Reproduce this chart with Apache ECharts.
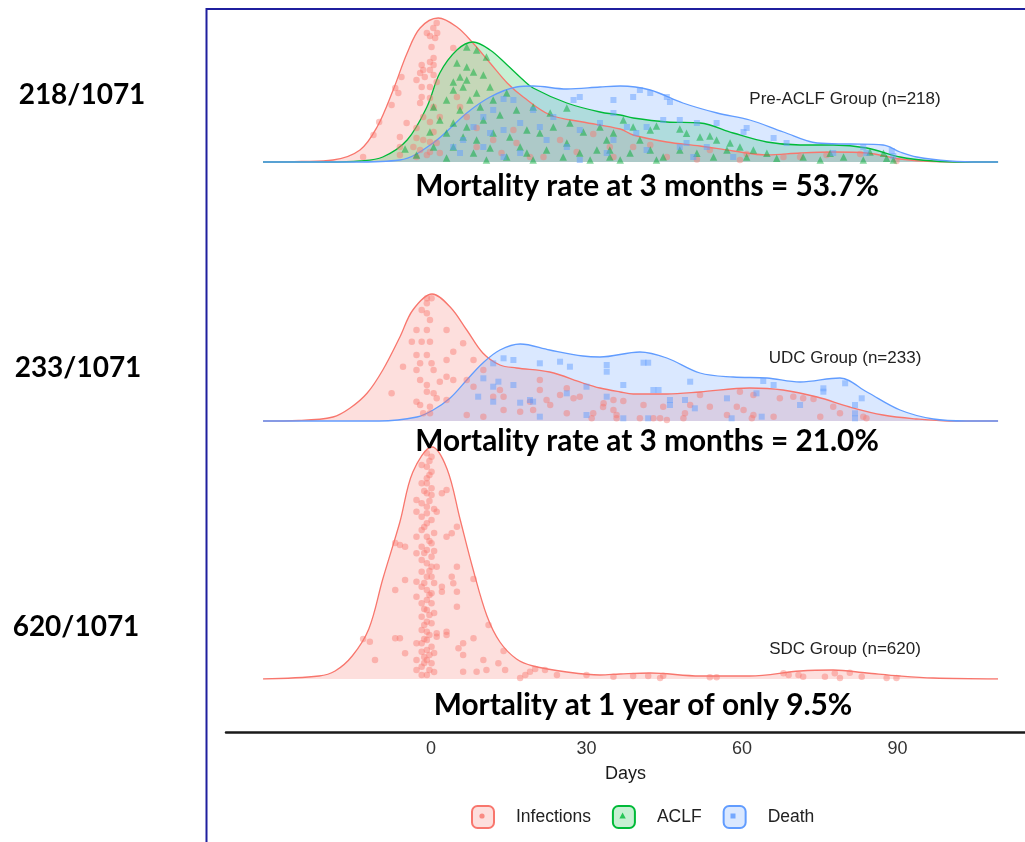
<!DOCTYPE html>
<html>
<head>
<meta charset="utf-8">
<script src="https://cdn.jsdelivr.net/npm/echarts@6/dist/echarts.min.js"></script>
<style>
  html, body { margin: 0; padding: 0; background: #ffffff; }
  #chart { width: 1025px; height: 842px; }
</style>
</head>
<body>
<div id="chart"></div>
<script>
// ---------------- values ----------------
const xTicks = [0, 30, 60, 90];
const eventNames = ['Infections', 'ACLF', 'Death'];
const groupLabels = ['Pre-ACLF Group (n=218)', 'UDC Group (n=233)', 'SDC Group (n=620)'];
const groupShares = ['218/1071', '233/1071', '620/1071'];
const mortalityNotes = [
  'Mortality rate at 3 months = 53.7%',
  'Mortality rate at 3 months = 21.0%',
  'Mortality at 1 year of only 9.5%'
];

// density curves: [day, scaled density]
const preInfectionsDensity = [[-32.4,0],[-25,0.5],[-18.9,2],[-13.7,12],[-10.4,35],[-7.3,72],[-4.6,109],[-2.1,134],[1.4,144],[5.0,135],[8.1,119],[11.4,99],[14.7,79],[17.8,65],[23.0,47],[29.3,40],[36.5,33],[39.0,27],[45.5,20],[51.9,16],[58.3,11],[64.8,7],[71.2,9],[77.6,10],[84.1,9],[90.5,3],[96.9,0.5],[109.4,0]];
const preAclfDensity = [[-32.4,0],[-20,0],[-13.7,1],[-9.3,5],[-4.6,22],[-0.8,55],[1.7,89],[5.0,112],[8.1,120],[11.4,112],[14.7,97],[17.8,82],[19.7,74],[26.2,59],[32.6,50],[36.5,47],[39.0,44],[45.5,40],[51.9,39],[58.3,29],[64.8,20],[71.2,17],[77.6,17],[84.1,14],[90.5,5],[96.9,1],[103,0],[109.4,0]];
const preDeathDensity = [[-32.4,0],[-15,0],[-6.0,2],[0.4,19],[6.9,49],[11.4,65],[16.5,75],[19.7,76],[26.2,73],[32.6,75],[36.5,76],[42.3,72],[48.6,59],[55.2,49],[61.5,42],[68,30],[74.5,19],[80.8,18],[87.2,17],[90.5,10],[93.7,5],[100,1],[106.5,0],[109.4,0]];
const udcInfectionsDensity = [[-32.4,0],[-25.5,0.5],[-18.9,4],[-15.6,13],[-12.3,28],[-9.3,51],[-6.0,84],[-3.5,111],[0.2,127],[3.7,114],[6.9,91],[10.0,68],[13.3,56],[16.5,53],[22.9,49],[29.3,38],[32.6,33],[36.5,29],[39.0,27],[45.5,27],[51.9,29],[61.5,33],[67.9,31],[74.5,24],[80.8,14],[87.2,6],[93.7,2],[100,0],[109.4,0]];
const udcDeathDensity = [[-32.4,0],[-10,0],[-2.7,4],[0.4,11],[3.7,23],[6.9,41],[10.0,58],[13.3,71],[17.2,77],[22.9,71],[29.3,65],[32.6,64],[40.3,69],[45.5,63],[51.9,48],[58.3,44],[64.8,43],[71.2,39],[78.9,43],[84.1,29],[90.5,11],[96.9,2],[103.3,0],[109.4,0]];
const sdcInfectionsDensity = [[-32.4,0],[-21.6,3],[-18.5,8],[-15.2,23],[-12.0,50],[-9.3,100],[-6.0,157],[-3.5,207],[0.2,232],[3.1,210],[5.6,160],[8.1,110],[10.8,63],[13.3,37],[16.5,20],[19.7,13],[26.2,7],[32.6,4],[36.5,5],[42.3,6],[51.9,3],[61.5,3],[71.2,8],[77.6,9],[84.1,6],[90.5,3],[96.9,1],[109.4,0]];

// individual events: [day, jittered height]
const preInfectionsPoints = [[1.1,139],[0.45,134],[1.2,129],[-0.2,126],[0.8,124],[-0.8,129],[0.1,115],[4.3,114],[0.5,104],[-0.2,100],[-1.8,97],[0.5,97],[-1.5,92],[-0.2,92],[-5.7,85],[-2.1,89],[0.5,87],[-1.2,85],[-6.9,74],[-2.8,82],[1.1,80],[-1.8,75],[-0.2,75],[-6.3,69],[-1.8,65],[-0.2,64],[-7.6,57],[-2.1,59],[0.5,55],[1.7,45],[-10.0,40],[-1.5,45],[-0.2,40],[-4.7,39],[-2.8,34],[0.5,30],[-11.1,27],[-6.0,25],[-2.8,24],[-1.5,22],[-0.2,20],[1.1,19],[-6.0,15],[-3.4,15],[-2.1,12],[-0.2,10],[-13.1,5],[-6.0,7],[-2.8,5],[-0.8,7],[1.7,9],[5.0,65],[5.6,55],[6.9,45],[8.8,34],[8.8,15],[12.0,22],[13.6,9],[15.9,32],[16.5,19],[19.1,5],[21.7,5],[24.9,22],[28.1,10],[31.3,28],[34.5,15],[35.2,5],[39.0,15],[42.3,17],[45.5,5],[51.3,2.5],[53.8,12],[59.6,2],[60.9,8],[68.0,5],[71.2,5],[76.3,7],[82.8,8],[89.8,1]];
const preAclfPoints = [[6.9,115],[8.8,112],[10.7,105],[5.0,99],[6.9,95],[8.2,90],[5.6,85],[4.3,80],[6.9,82],[10.1,87],[6.2,75],[8.8,69],[11.4,75],[4.3,72],[7.5,62],[3.0,62],[0.5,55],[5.6,52],[9.5,55],[12.0,62],[14.6,69],[1.7,42],[4.3,39],[6.9,35],[10.1,42],[13.3,47],[16.5,52],[19.7,55],[23.0,49],[26.2,54],[-0.2,30],[3.0,29],[6.2,25],[8.8,22],[12.0,29],[15.2,25],[18.5,32],[21.0,29],[23.6,35],[26.8,39],[29.4,30],[32.6,35],[35.2,29],[-5.0,13],[0.5,15],[4.3,15],[8.2,9],[11.4,14],[14.6,5],[18.5,9],[22.3,12],[25.5,5],[28.7,9],[32.0,12],[34.5,5],[26.2,19],[17.2,15],[-2.8,7],[3.0,4],[10.7,2],[19.7,2],[30.7,2],[33.9,22],[37.1,42],[39.0,35],[42.3,32],[43.5,36],[48.0,33],[49.3,28.7],[51.9,25],[53.8,26],[55.1,22],[57.7,19],[59.6,15],[62.2,12],[34.5,12],[38.4,9],[42.3,12],[44.8,5],[48.0,12],[51.3,8.7],[54.5,5],[57.1,12],[60.9,5],[64.8,8.7],[66.7,3.7],[71.8,5],[75.1,2],[77.0,8.7],[79.6,5],[83.4,2],[84.7,10],[87.9,3.7],[89.2,2],[87.3,8.7],[43.5,2],[36.5,2],[40.3,22]];
const preDeathPoints = [[14.0,63],[15.9,62],[12.0,52],[10.1,45],[8.2,35],[11.4,29],[14.0,32],[17.2,39],[19.7,52],[21.0,35],[23.6,45],[27.5,62],[28.7,65],[28.7,32],[32.6,39],[35.2,49],[14.0,5],[17.2,9],[26.2,15],[28.7,2],[33.9,9],[4.3,15],[6.2,22],[10.1,15],[22.3,22],[5.6,9],[35.2,62],[39.0,65],[42.3,69],[45.5,65],[46.1,60],[40.3,72],[39.6,29],[41.6,35],[44.8,42],[48.0,42],[51.3,39],[55.1,39],[60.3,30],[66.1,24],[60.9,34],[49.3,19],[53.2,15],[58.3,5],[35.2,22],[37.8,35],[68.6,19],[77.6,9],[83.4,15],[84.0,9],[88.9,11],[89.2,6],[48.0,15],[41.6,12],[50.6,5]];
const udcInfectionsPoints = [[-0.8,122.7],[0.1,122.7],[-0.8,117.7],[-1.8,111],[-0.8,107.7],[-0.2,101],[-2.8,91],[-0.8,91],[3.0,91],[-3.7,79.3],[-1.8,79.3],[-0.2,79.3],[-2.8,66],[-0.8,66],[3.0,61],[6.2,77.7],[8.2,61],[-2.1,57.7],[0.1,57.7],[-5.4,54.3],[-2.8,51],[0.5,51],[4.3,69.3],[3.0,44.3],[-2.1,41],[-0.8,36],[1.7,39.3],[4.3,41],[0.5,27.7],[-7.6,27.7],[-0.8,29.3],[-2.8,19.3],[-0.2,14.3],[-2.1,16],[-1.5,7.7],[-0.2,7.7],[1.1,22.7],[3.0,21],[6.9,41],[8.2,34.3],[10.1,51],[14.0,24.3],[17.2,9.3],[21.0,41],[21.0,31],[22.3,21],[23.0,16],[19.1,19.3],[19.7,11],[26.2,32.7],[26.2,7.7],[24.9,26],[27.5,22.7],[28.7,24.3],[6.9,6],[10.1,4.3],[14.0,11],[33.3,17.7],[35.2,21],[31.3,7.7],[31.0,2.7],[35.8,2.7],[12.0,24.3],[13.3,31],[33.2,14],[37.1,20],[41.0,16],[44.8,14.3],[45.5,1],[48.7,2.7],[49.0,7.7],[50.0,16],[51.9,26],[53.8,14.3],[57.1,6],[59.0,14.3],[59.6,29.3],[60.3,11],[62.2,26],[62.2,6],[66.1,4.3],[67.3,22.7],[69.9,24.3],[71.8,22.7],[73.8,22],[75.1,4.3],[77.6,14.3],[78.9,7.7],[83.4,4.3],[84.0,2.7],[61.9,2.7],[40.3,2.7],[42.9,2.7],[44.2,2.7],[35.2,11],[35.8,6]];
const udcDeathPoints = [[14.0,62.7],[15.9,61],[12.0,57.7],[10.1,42.7],[13.0,39.3],[12.0,34.3],[15.9,36],[9.1,24.3],[12.0,19.3],[17.2,18.3],[19.1,21],[19.7,19.3],[21.0,4.3],[21.0,57.7],[24.9,59.3],[26.8,54.3],[30.0,34.3],[33.9,56],[33.9,49.3],[33.9,24.3],[30.0,6],[26.2,27.7],[37.1,36],[41.0,58.3],[41.9,58.3],[42.9,31],[43.9,31],[46.1,21],[46.1,16],[49.0,21],[50.0,39.3],[50.9,12.7],[57.1,22.7],[58.0,2.7],[37.1,2.7],[41.9,2.7],[64.1,40],[66.1,36],[62.8,27.7],[63.8,4.3],[71.2,16],[75.7,32.7],[75.7,29.3],[79.9,37.7],[83.1,22.7],[81.8,16],[81.8,7.7],[81.8,2.7]];
const sdcInfectionsPoints = [[-0.8,225.7],[0.1,222.3],[-1.8,214],[-0.8,212.3],[0.1,207.3],[-0.8,200.7],[-1.8,195.7],[-0.8,195.7],[0.1,190.7],[-0.8,185.7],[-2.8,179],[-1.8,175.7],[0.1,184],[-0.8,172.3],[-2.8,167.3],[-1.8,162.3],[-0.8,165.7],[0.1,159],[-0.8,155.7],[-1.8,149],[-2.8,142.3],[-0.8,142.3],[0.1,135.7],[-1.8,132.3],[-0.8,129],[-2.8,125.7],[0.1,122.3],[-1.8,119],[-0.8,115.7],[0.1,112.3],[-1.8,107.3],[-0.8,102.3],[0.1,102.3],[-2.8,97.3],[-1.8,92.3],[-0.8,89],[0.1,85.7],[-2.8,82.3],[-0.8,79],[-1.8,75.7],[0.1,75.7],[-0.8,69],[-1.8,62.3],[-0.8,57.3],[0.1,55.7],[-1.8,49],[-0.8,47.3],[-2.8,35.7],[-1.8,35.7],[-0.8,39],[0.1,32.3],[-1.8,27.3],[-0.8,29],[-2.8,19],[-0.8,19],[0.1,15.7],[-1.8,12.3],[-2.8,9],[-0.8,4],[-1.8,4],[1.1,42.3],[-0.3,218],[-0.3,204],[-1.3,188],[-0.3,178],[-1.3,152],[-0.3,138],[-1.3,126],[-0.3,108],[-1.3,96],[-0.3,84],[-1.3,70],[-0.3,64],[-1.3,54],[-0.3,44],[-1.3,40],[-0.3,24],[-1.3,22],[-0.3,9],[-1.3,16],[0.6,170],[0.6,146],[0.6,128],[0.6,96],[0.6,66],[0.6,26],[0.6,7],[3.0,189],[2.1,185.7],[1.1,167.3],[5.0,152.3],[4.0,145.7],[3.0,142.3],[-6.0,134],[-5.0,132.3],[-6.9,136],[1.1,112.3],[5.0,112.3],[8.2,100],[4.0,102.3],[4.3,95.7],[2.1,92.3],[2.1,87.3],[5.0,87.3],[-5.0,99],[-6.9,89],[5.0,72.3],[11.1,54],[3.0,47.3],[1.1,45.7],[3.0,44],[-6.9,40.7],[-6.0,40.7],[8.2,40.7],[5.3,30.7],[6.2,35.7],[6.2,24],[14.0,28],[10.1,19],[13.0,15.7],[14.3,9],[6.2,7.3],[8.8,7.3],[10.7,9],[-13.1,40],[-11.8,37.3],[-10.8,19],[-5.0,25.7],[17.2,1],[18.2,4],[19.1,7.3],[20.1,10],[22.0,9],[24.3,4],[30.0,4],[35.2,2.3],[39.0,3],[41.9,3],[44.2,1],[44.8,3.3],[53.8,1.7],[55.1,1.7],[68.0,5.7],[69.0,4],[70.9,4],[71.8,2.3],[76.0,2.3],[77.9,5.7],[78.9,1],[80.8,6.3],[83.1,2.3],[87.9,1],[89.8,1]];

// ---------------- styling ----------------
const COLORS = {
  Infections: { line: '#F8766D', fill: 'rgba(248,118,109,0.23)', dot: 'rgba(248,118,109,0.55)', symbol: 'circle', size: 6.5 },
  ACLF:       { line: '#00BA38', fill: 'rgba(0,186,56,0.22)',    dot: 'rgba(0,170,52,0.62)',    symbol: 'triangle', size: 7.5 },
  Death:      { line: '#619CFF', fill: 'rgba(97,156,255,0.23)',  dot: 'rgba(97,156,255,0.6)',   symbol: 'rect', size: 6 }
};
// vertical offset of each ridge on the shared value axis
const RIDGE_BASE = [517, 258, 0];

function densitySeries(name, curve, base) {
  const c = COLORS[name];
  return {
    type: 'line', name: name, smooth: 0.35, showSymbol: false, symbol: 'none',
    silent: true, animation: false, z: 2,
    data: curve.map(p => [p[0], base + p[1]]),
    lineStyle: { color: c.line, width: 1.3 },
    itemStyle: { color: c.line },
    areaStyle: { color: c.fill, origin: base, opacity: 1 }
  };
}
function pointSeries(name, pts, base) {
  const c = COLORS[name];
  return {
    type: 'scatter', name: name, symbol: c.symbol, symbolSize: c.size,
    silent: true, animation: false, z: 3,
    data: pts.map(p => [p[0], base + p[1]]),
    itemStyle: { color: c.dot }
  };
}

const series = [
  densitySeries('Infections', preInfectionsDensity, RIDGE_BASE[0]),
  densitySeries('ACLF', preAclfDensity, RIDGE_BASE[0]),
  densitySeries('Death', preDeathDensity, RIDGE_BASE[0]),
  densitySeries('Infections', udcInfectionsDensity, RIDGE_BASE[1]),
  densitySeries('Death', udcDeathDensity, RIDGE_BASE[1]),
  densitySeries('Infections', sdcInfectionsDensity, RIDGE_BASE[2]),
  pointSeries('Infections', preInfectionsPoints, RIDGE_BASE[0]),
  pointSeries('ACLF', preAclfPoints, RIDGE_BASE[0]),
  pointSeries('Death', preDeathPoints, RIDGE_BASE[0]),
  pointSeries('Infections', udcInfectionsPoints, RIDGE_BASE[1]),
  pointSeries('Death', udcDeathPoints, RIDGE_BASE[1]),
  pointSeries('Infections', sdcInfectionsPoints, RIDGE_BASE[2])
];

const FRAME = '#1f1f9e';
const graphic = [
  { type: 'line', z: 50, shape: { x1: 206.5, y1: 8, x2: 206.5, y2: 842 }, style: { stroke: FRAME, lineWidth: 2 } },
  { type: 'line', z: 50, shape: { x1: 206, y1: 9, x2: 1025, y2: 9 }, style: { stroke: FRAME, lineWidth: 2 } }
];
const shareCenters = [[82, 95], [78, 368], [76, 627]];
groupShares.forEach((t, i) => graphic.push({
  type: 'text', z: 60, x: shareCenters[i][0], y: shareCenters[i][1],
  style: { text: t, font: 'bold 28px Lato', fill: '#000', align: 'center', verticalAlign: 'middle' }
}));
const noteCenters = [[647, 186], [647, 441], [643, 705]];
mortalityNotes.forEach((t, i) => graphic.push({
  type: 'text', z: 60, x: noteCenters[i][0], y: noteCenters[i][1],
  style: { text: t, font: 'bold 29.8px Lato', fill: '#000', align: 'center', verticalAlign: 'middle' }
}));
const labelCenters = [[845, 99], [845, 358], [845, 649]];
groupLabels.forEach((t, i) => graphic.push({
  type: 'text', z: 60, x: labelCenters[i][0], y: labelCenters[i][1],
  style: { text: t, font: '17px "Liberation Sans"', fill: '#222', align: 'center', verticalAlign: 'middle' }
}));
// small glyphs inside the legend keys
graphic.push(
  { type: 'circle', z: 60, shape: { cx: 482, cy: 816, r: 2.6 }, style: { fill: 'rgba(248,118,109,0.8)' } },
  { type: 'polygon', z: 60, shape: { points: [[622.6, 812.6], [619.4, 818.6], [625.8, 818.6]] }, style: { fill: 'rgba(0,186,56,0.8)' } },
  { type: 'rect', z: 60, shape: { x: 730.5, y: 813.5, width: 5, height: 5 }, style: { fill: 'rgba(97,156,255,0.85)' } }
);

const chart = echarts.init(document.getElementById('chart'), null, { renderer: 'canvas' });
chart.setOption({
  backgroundColor: '#ffffff',
  animation: false,
  grid: { left: 226, right: 0, top: 9, bottom: 163, containLabel: false },
  xAxis: {
    type: 'value', min: -39.55, max: 114.6, offset: 53,
    axisLine: { show: true, onZero: false, lineStyle: { color: '#1a1a1a', width: 2.5 } },
    axisTick: { show: false },
    splitLine: { show: false },
    axisLabel: { customValues: xTicks, fontSize: 18, color: '#333', margin: 8, fontFamily: 'Liberation Sans' },
    name: 'Days', nameLocation: 'middle', nameGap: 33,
    nameTextStyle: { fontSize: 18, color: '#1a1a1a', fontFamily: 'Liberation Sans' }
  },
  yAxis: { type: 'value', min: 0, max: 670, show: false },
  legend: {
    left: 471, top: 805, padding: 0, itemWidth: 22, itemHeight: 22, itemGap: 21,
    selectedMode: false, icon: 'roundRect',
    formatter: n => '{sp|}' + n,
    textStyle: { fontFamily: 'Liberation Sans', fontSize: 17.5, color: '#222', rich: { sp: { width: 17 } } },
    data: eventNames.map(n => ({
      name: n, icon: 'roundRect',
      itemStyle: { color: COLORS[n].fill, borderColor: COLORS[n].line, borderWidth: 2 }
    }))
  },
  graphic: graphic,
  series: series
});
</script>
</body>
</html>
